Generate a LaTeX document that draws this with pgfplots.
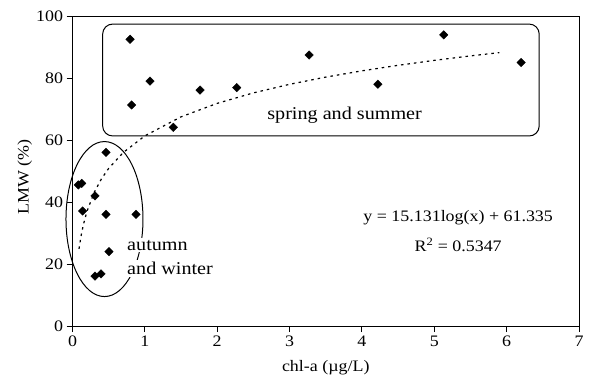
\documentclass[border=0pt]{standalone}
\usepackage{fontspec}
\setmainfont{Liberation Serif}[FakeStretch=1.12]
\usepackage{pgfplots}
\pgfplotsset{compat=1.18}
\begin{document}
\begin{tikzpicture}
\begin{axis}[
  width=506.5pt, height=310pt, scale only axis,
  xmin=0, xmax=7, ymin=0, ymax=100,
  xtick={0,1,...,7}, ytick={0,20,...,100},
  tick align=outside, tick pos=left,
  major tick length=6pt,
  every tick/.style={black, line width=0.9pt},
  axis line style={line width=0.9pt},
  tick label style={font=\fontsize{16}{18}\selectfont},
  /pgf/number format/assume math mode=true,
  xlabel={chl-a (µg/L)}, ylabel={LMW (\%)},
  label style={font=\fontsize{16}{18}\selectfont},
  xlabel style={at={(axis description cs:0.5,-0.135)}, anchor=center},
  ylabel style={at={(axis description cs:-0.094,0.48)}, anchor=center},
  clip=false,
]
% trend line (logarithmic fit values)
\addplot[black, line width=1.2pt, dash pattern=on 2.5pt off 4pt, mark=none] coordinates {
 (0.09,24.90) (0.12,29.25) (0.15,32.63) (0.2,36.98) (0.3,43.12) (0.4,47.47)
 (0.5,50.85) (0.7,55.94) (1,61.34) (1.5,67.47) (2,71.82) (2.5,75.20)
 (3,77.96) (3.5,80.29) (4,82.31) (4.5,84.09) (5,85.69) (5.5,87.13) (5.9,88.19)
};
% spring and summer
\addplot[only marks, mark=square*, mark size=3pt, mark options={rotate=45, fill=black, draw=black}] coordinates {
 (0.795,92.5) (0.818,71.3) (1.071,79.0) (1.393,64.1) (1.763,76.1)
 (2.269,76.9) (3.27,87.4) (4.22,78.0) (5.13,93.9) (6.20,85.0)
};
% autumn and winter
\addplot[only marks, mark=square*, mark size=3pt, mark options={rotate=45, fill=black, draw=black}] coordinates {
 (0.463,56.0) (0.080,45.5) (0.127,46.0) (0.311,42.0) (0.141,37.1)
 (0.463,36.0) (0.878,36.0) (0.504,24.0) (0.311,16.1) (0.394,16.8)
};
\draw[line width=1pt, rounded corners=10pt] (axis cs:0.417,97.4) rectangle (axis cs:6.45,61.3);
\draw[line width=1pt] (axis cs:0.442,34.5) ellipse [x radius=38.5pt, y radius=77.5pt];
\node[anchor=base west, fill=white, inner sep=2pt, font=\fontsize{18}{22}\selectfont] at (axis cs:0.726,24.5) {autumn};
\node[anchor=base west, fill=white, inner sep=2pt, font=\fontsize{18}{22}\selectfont] at (axis cs:0.726,16.6) {and winter};
\node[anchor=base west, inner sep=0pt, font=\fontsize{18}{22}\selectfont] at (axis cs:2.69,66.5) {spring and summer};
\node[anchor=base, inner sep=0pt, font=\fontsize{16}{18}\selectfont] at (axis cs:5.33,33.6) {y = 15.131log(x) + 61.335};
\node[anchor=base, inner sep=0pt, font=\fontsize{16}{18}\selectfont] at (axis cs:5.33,24.0) {R\textsuperscript{2} = 0.5347};
\path ([shift={(-72.5pt,-60pt)}]rel axis cs:0,0) rectangle ([shift={(12pt,16pt)}]rel axis cs:1,1);
\end{axis}
\end{tikzpicture}
\end{document}
